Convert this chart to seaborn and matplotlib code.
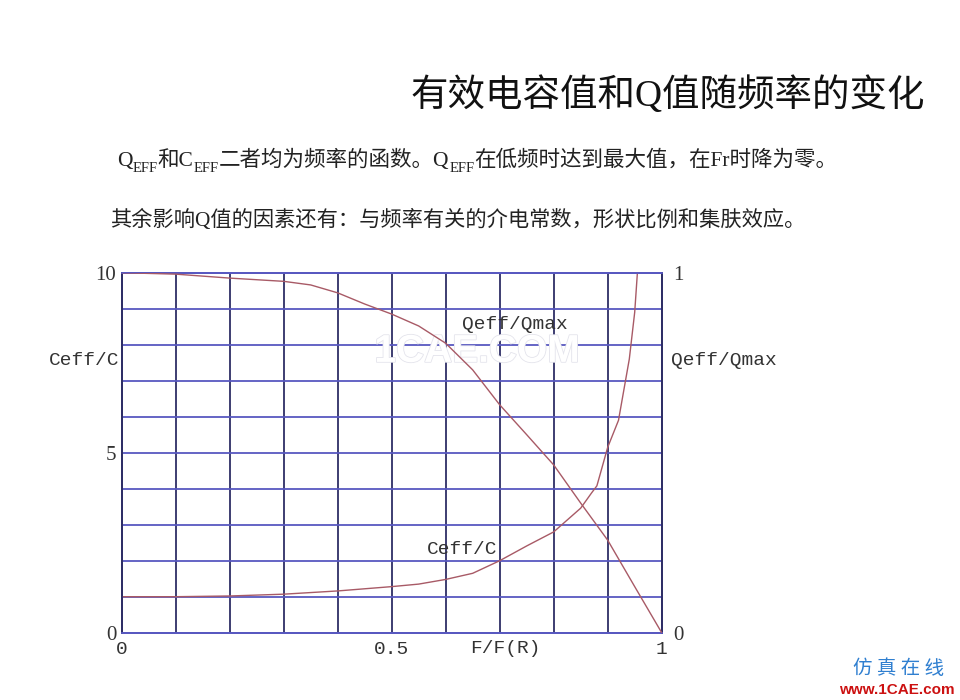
import numpy as np
import pandas as pd
import seaborn as sns
import matplotlib.pyplot as plt
import matplotlib.patheffects as pe

# Data
title = "有效电容值和Q值随频率的变化"
line2 = "其余影响Q值的因素还有：与频率有关的介电常数，形状比例和集肤效应。"

# Qeff/Qmax (right axis, 0..1) vs F/F(R)
q_freq = [0.0, 0.1, 0.2, 0.3, 0.35, 0.4, 0.45, 0.5, 0.55, 0.6, 0.65, 0.7,
          0.75, 0.8, 0.85, 0.9, 0.95, 1.0]
q_ratio = [1.0, 0.996, 0.985, 0.976, 0.966, 0.944, 0.913, 0.885, 0.852, 0.804,
           0.73, 0.633, 0.55, 0.466, 0.36, 0.257, 0.128, 0.0]

# Ceff/C (left axis, 0..10) vs F/F(R)
c_freq = [0.0, 0.1, 0.2, 0.3, 0.4, 0.5, 0.55, 0.6, 0.65, 0.7, 0.75, 0.8,
          0.85, 0.87, 0.88, 0.9, 0.92, 0.94, 0.95, 0.955]
c_ratio = [1.0, 1.0, 1.02, 1.07, 1.16, 1.28, 1.35, 1.48, 1.65, 2.0, 2.41, 2.8,
           3.46, 3.88, 4.08, 5.15, 5.9, 7.6, 8.9, 10.0]

x_ticks = [0, 0.5, 1]
x_tick_labels = ["0", "0.5", "1"]
left_ticks = [0, 5, 10]
right_ticks = [0, 1]

q_df = pd.DataFrame({"freq": q_freq, "ratio": q_ratio})
c_df = pd.DataFrame({"freq": c_freq, "ratio": c_ratio})

sns.set_style("white")
plt.rcParams["font.family"] = ["Liberation Serif", "Noto Sans CJK SC", "DejaVu Sans"]

mono = "Liberation Mono"
cjk = ["Liberation Serif", "Noto Sans CJK SC", "DejaVu Sans"]
v_color = "#2e2e66"
h_color = "#5858c0"
curve_color = "#a85a66"

fig = plt.figure(figsize=(9.6, 7), dpi=100)
ax = fig.add_axes([121.7 / 960, 67.3 / 700, 540 / 960, 360 / 700])
ax2 = ax.twinx()

sns.lineplot(data=c_df, x="freq", y="ratio", ax=ax, color=curve_color,
             linewidth=1.0, sort=False, estimator=None, zorder=5)
sns.lineplot(data=q_df, x="freq", y="ratio", ax=ax2, color=curve_color,
             linewidth=1.0, sort=False, estimator=None, zorder=5)

ax.set_xlim(0, 1)
ax.set_ylim(0, 10)
ax2.set_ylim(0, 1)

# grid: vertical every 0.1, horizontal every 1 (major + minor so none is dropped)
ax.set_xticks(np.arange(0, 1.01, 0.1), minor=True)
ax.set_yticks(np.arange(0, 10.1, 1), minor=True)
ax.set_xticks(x_ticks)
ax.set_yticks(left_ticks)
ax.grid(which="both", axis="x", color=v_color, linewidth=1.3)
ax.grid(which="both", axis="y", color=h_color, linewidth=1.3)
ax.set_axisbelow(True)

ax.set_xticklabels(x_tick_labels, fontfamily=mono, fontsize=14)
ax.set_yticklabels([str(t) for t in left_ticks], fontfamily="Liberation Serif", fontsize=15)
ax2.set_yticks(right_ticks)
ax2.set_yticklabels([str(t) for t in right_ticks], fontfamily="Liberation Serif", fontsize=15)
ax.tick_params(which="both", length=0, colors="#333333")
ax.tick_params(axis="x", pad=6)
ax.tick_params(axis="y", pad=4)
ax2.tick_params(length=0, colors="#333333", pad=8)
ax.set_xlabel("")
ax.set_ylabel("")
ax2.set_ylabel("")

for a in (ax, ax2):
    a.spines["left"].set_color(v_color)
    a.spines["right"].set_color(v_color)
    a.spines["top"].set_color(h_color)
    a.spines["bottom"].set_color(h_color)
    for s in a.spines.values():
        s.set_linewidth(1.3)

# axis / curve labels
ax.text(-0.005, 0.7575, "Ceff/C", transform=ax.transAxes, ha="right", va="center",
        fontfamily=mono, fontsize=14, color="#333333")
ax.text(1.018, 0.7575, "Qeff/Qmax", transform=ax.transAxes, ha="left", va="center",
        fontfamily=mono, fontsize=14, color="#333333")
ax.text(0.71, -0.045, "F/F(R)", transform=ax.transAxes, ha="center", va="center",
        fontfamily=mono, fontsize=14, color="#333333")
ax.text(0.728, 0.857, "Qeff/Qmax", transform=ax.transAxes, ha="center", va="center",
        fontfamily=mono, fontsize=14, color="#333333", zorder=6)
ax.text(0.630, 0.23, "Ceff/C", transform=ax.transAxes, ha="center", va="center",
        fontfamily=mono, fontsize=14, color="#333333", zorder=6)

# faint watermark
ax.text(0.658, 0.78, "1CAE.COM", transform=ax.transAxes, ha="center", va="center",
        fontfamily="Liberation Sans", fontweight="bold", fontsize=28, color="white",
        zorder=4, path_effects=[pe.withStroke(linewidth=1.2, foreground="#e4e4ec")])

# title
fig.text(925 / 960, 1 - 95 / 700, title, ha="right", va="center", fontsize=27,
         fontfamily=cjk, color="#111111")

# first text line with EFF subscripts, chained piece by piece
pieces = [("Q", False), ("EFF", True), ("和C", False), ("EFF", True),
          ("二者均为频率的函数。Q", False), ("EFF", True),
          ("在低频时达到最大值，在Fr时降为零。", False)]
prev = None
prev_sub = False
for txt, sub in pieces:
    size = 10.5 if sub else 15.5
    if prev is None:
        prev = ax.annotate(txt, xy=(117 / 960, 1 - 171 / 700), xycoords="figure fraction",
                           ha="left", va="bottom", fontsize=size, fontfamily=cjk,
                           color="#222222", annotation_clip=False)
    else:
        dy = -3 if sub else (3 if prev_sub else 0)
        prev = ax.annotate(txt, xy=(1, 0), xycoords=prev, xytext=(0, dy),
                           textcoords="offset points", ha="left", va="bottom",
                           fontsize=size, fontfamily=cjk, color="#222222",
                           annotation_clip=False)
    prev_sub = sub

fig.text(110 / 960, 1 - 220 / 700, line2, ha="left", va="center", fontsize=15.3,
         fontfamily=cjk, color="#222222")

# logo bottom right
fig.text(899 / 960, 1 - 668 / 700, "仿 真 在 线", ha="center", va="center", fontsize=14,
         fontfamily="Noto Sans CJK SC", color="#2f7fd0", style="italic")
fig.text(897 / 960, 1 - 690 / 700, "www.1CAE.com", ha="center", va="center", fontsize=11,
         fontfamily="Liberation Sans", fontweight="bold", color="#cc1111")

fig.savefig("out.png", dpi=100, facecolor="white")
